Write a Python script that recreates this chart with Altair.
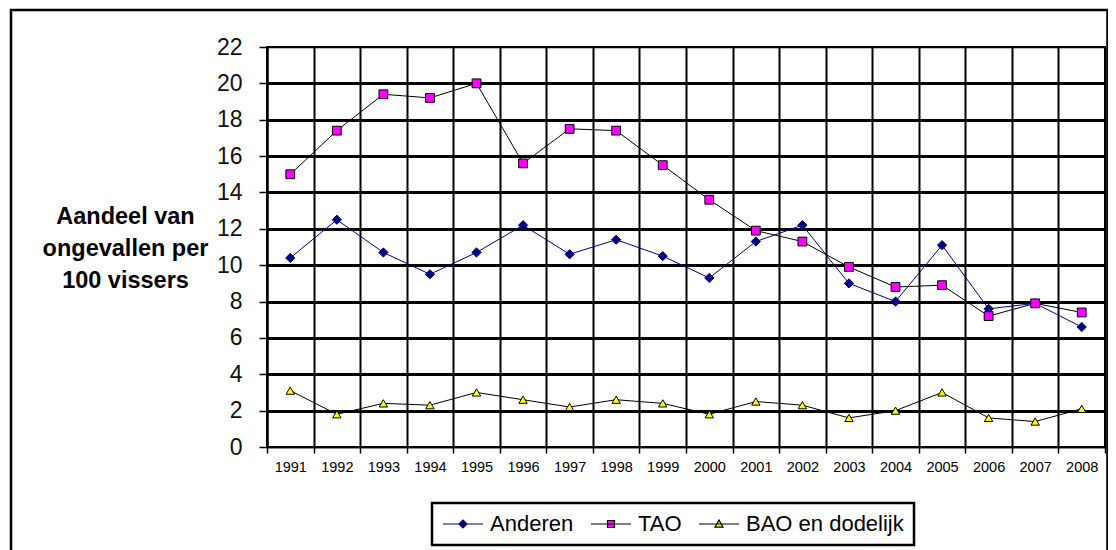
import altair as alt
import pandas as pd

years = [str(y) for y in range(1991, 2009)]
series = ["Anderen", "TAO", "BAO en dodelijk"]
anderen = [10.4, 12.5, 10.7, 9.5, 10.7, 12.2, 10.6, 11.4, 10.5, 9.3, 11.3, 12.2, 9.0, 8.0, 11.1, 7.6, 7.9, 6.6]
tao = [15.0, 17.4, 19.4, 19.2, 20.0, 15.6, 17.5, 17.4, 15.5, 13.6, 11.9, 11.3, 9.9, 8.8, 8.9, 7.2, 7.9, 7.4]
bao = [3.1, 1.8, 2.4, 2.3, 3.0, 2.6, 2.2, 2.6, 2.4, 1.8, 2.5, 2.3, 1.6, 2.0, 3.0, 1.6, 1.4, 2.1]
y_title = ["Aandeel van", "ongevallen per", "100 vissers"]

rows = []
for name, vals in zip(series, [anderen, tao, bao]):
    for yr, v in zip(years, vals):
        rows.append({"jaar": yr, "waarde": v, "reeks": name})
df = pd.DataFrame(rows)

FONT = "Liberation Sans"
W, H = 838, 400
navy, black, magenta, yellow = "#000080", "#000000", "#FF00FF", "#FFFF00"

x_enc = alt.X(
    "jaar:N", sort=years,
    scale=alt.Scale(type="band", paddingInner=0, paddingOuter=0),
    axis=alt.Axis(title=None, tickBand="extent", labelAngle=0, labelFontSize=14.5,
                  labelColor="#000", labelFont=FONT, labelPadding=7,
                  grid=True, gridColor="#000", gridWidth=2, gridOpacity=1,
                  tickColor="#000", tickWidth=1.5, tickSize=6,
                  domainColor="#000", domainWidth=1.5),
)
y_enc = alt.Y(
    "waarde:Q",
    scale=alt.Scale(domain=[0, 22], nice=False, zero=True),
    axis=alt.Axis(values=list(range(0, 23, 2)), title=y_title, titleAngle=0,
                  titleAlign="center", titleBaseline="middle", titleX=-142, titleY=169,
                  titleFontSize=23.5, titleFontWeight="bold", titleFont=FONT,
                  titleColor="#000", titleLineHeight=32,
                  labelFontSize=23, labelColor="#111", labelFont=FONT, labelPadding=17,
                  grid=True, gridColor="#000", gridOpacity=1,
                  gridWidth=alt.condition("datum.value === 0 || datum.value === 22",
                                          alt.value(1.5), alt.value(2.8)),
                  tickColor="#000", tickWidth=1.5, tickSize=8,
                  domainColor="#000", domainWidth=2),
)

stroke_scale = alt.Scale(domain=series, range=[navy, black, black])
fill_scale = alt.Scale(domain=series, range=[navy, magenta, yellow])

base = alt.Chart(df)

frame = alt.Chart(alt.Data(values=[{}])).mark_rect(
    fillOpacity=0, stroke="#000", strokeWidth=2.5
).encode(x=alt.value(-256), x2=alt.value(W + 2.5), y=alt.value(-37), y2=alt.value(560))

lines = base.mark_line(strokeWidth=1).encode(
    x=x_enc, y=y_enc,
    stroke=alt.Stroke("reeks:N", scale=stroke_scale, legend=None),
)

points = base.mark_point(filled=True, opacity=1, strokeWidth=1).encode(
    x=x_enc, y=y_enc,
    shape=alt.Shape("reeks:N", scale=alt.Scale(domain=series, range=["diamond", "square", "triangle-up"]), legend=None),
    fill=alt.Fill("reeks:N", scale=fill_scale, legend=None),
    stroke=alt.Stroke("reeks:N", scale=stroke_scale, legend=None),
    size=alt.Size("reeks:N", scale=alt.Scale(domain=series, range=[85, 70, 75]), legend=None),
)

legend_paths = [
    "M-1,0H3M0.6,0L1,-0.4L1.4,0L1,0.4Z",
    "M-1,0H3M0.65,-0.35H1.35V0.35H0.65Z",
    "M-1,0H3M0.6,0.32L1,-0.4L1.4,0.32Z",
]
leg = alt.Legend(title=None, orient="none", legendX=165, legendY=456, direction="horizontal",
                 columns=3)
legend_layer = base.transform_filter("false").mark_point(filled=True, opacity=1, strokeWidth=1.2).encode(
    x=x_enc, y=y_enc,
    shape=alt.Shape("reeks:N", scale=alt.Scale(domain=series, range=legend_paths), legend=leg),
    fill=alt.Fill("reeks:N", scale=alt.Scale(domain=series, range=[navy, magenta, yellow]), legend=leg),
    stroke=alt.Stroke("reeks:N", scale=alt.Scale(domain=series, range=[navy, black, black]), legend=leg),
)

chart = alt.layer(frame, lines, points, legend_layer).resolve_scale(
    shape="independent", fill="independent", stroke="independent"
).properties(
    width=W, height=H,
    padding={"left": 259, "top": 39, "right": 3, "bottom": 103},
    autosize=alt.AutoSizeParams(type="none"),
    background="white",
).configure_view(
    stroke="#000", strokeWidth=2
).configure_legend(
    strokeColor="#000", strokeWidth=2.5, fillColor="white", padding=10,
    labelFontSize=22, labelFont=FONT, labelColor="#000", labelOffset=26,
    symbolSize=400, symbolStrokeWidth=1.2, columnPadding=14,
)

chart.save("out.html", embed_options={"renderer": "svg", "actions": False})
